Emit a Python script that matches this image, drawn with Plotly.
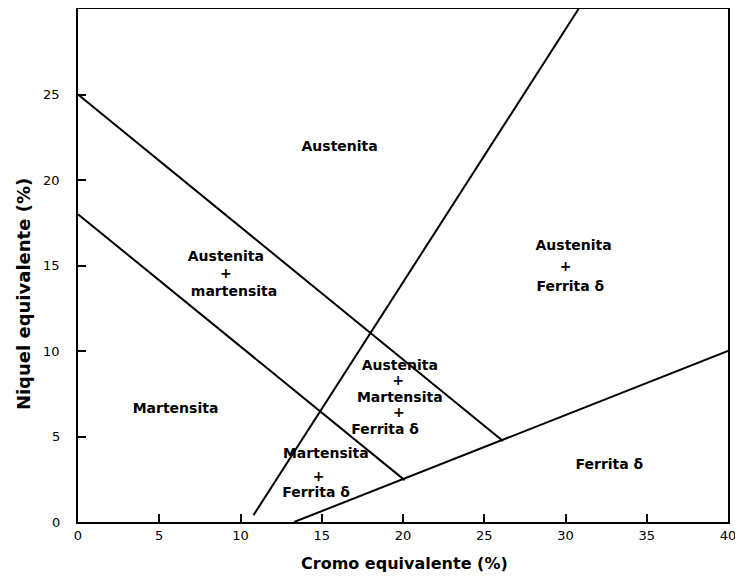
import plotly.graph_objects as go

# Boundary lines (Cromo equivalente, Niquel equivalente)
line_a_x = [0, 26.15]
line_a_y = [25, 4.74]
line_b_x = [0, 20.1]
line_b_y = [18, 2.45]
line_c_x = [10.8, 30.8]
line_c_y = [0.4, 30]
line_d_x = [13.3, 40]
line_d_y = [0, 10]

# Region labels, one entry per text line
label_text = ["Austenita",
              "Austenita", "+", "martensita",
              "Austenita", "+", "Ferrita δ",
              "Austenita", "+", "Martensita", "+", "Ferrita δ",
              "Martensita",
              "Martensita", "+", "Ferrita δ",
              "Ferrita δ"]
label_x = [16.1,
           9.1, 9.1, 9.6,
           30.5, 30.0, 30.3,
           19.8, 19.7, 19.8, 19.75, 18.9,
           6.0,
           15.25, 14.8, 14.65,
           32.7]
label_y = [21.9,
           15.45, 14.45, 13.4,
           16.1, 14.9, 13.7,
           9.1, 8.2, 7.25, 6.37, 5.38,
           6.6,
           3.92, 2.63, 1.64,
           3.33]

x_ticks = [0, 5, 10, 15, 20, 25, 30, 35, 40]
y_ticks = [0, 5, 10, 15, 20, 25]

x_title = "Cromo equivalente (%)"
y_title = "Niquel equivalente (%)"

FONT = "DejaVu Sans"

fig = go.Figure()
for xs, ys in [(line_a_x, line_a_y), (line_b_x, line_b_y), (line_c_x, line_c_y), (line_d_x, line_d_y)]:
    fig.add_trace(go.Scatter(x=xs, y=ys, mode="lines", line=dict(color="black", width=2),
                             showlegend=False, hoverinfo="skip"))

fig.add_trace(go.Scatter(x=label_x, y=label_y, mode="text", text=label_text,
                         textfont=dict(family=FONT, size=14, color="black", weight="bold"),
                         showlegend=False, hoverinfo="skip"))

fig.update_xaxes(range=[0, 40], tickvals=x_ticks, ticks="inside", ticklen=8, tickwidth=1.5,
                 tickcolor="black", showline=True, linecolor="black", linewidth=2, mirror=True,
                 showgrid=False, zeroline=False,
                 tickfont=dict(family=FONT, size=13, color="black"))
fig.update_yaxes(range=[0, 30], tickvals=y_ticks, ticks="inside", ticklen=8, tickwidth=1.5,
                 tickcolor="black", showline=True, linecolor="black", linewidth=2, mirror=True,
                 showgrid=False, zeroline=False, showticklabels=False)

# y tick labels placed further from the axis, as in the reference
for v in y_ticks:
    fig.add_annotation(text=str(v), xref="paper", yref="y", x=-0.025, y=v,
                       xanchor="right", yanchor="middle", showarrow=False,
                       font=dict(family=FONT, size=13, color="black"))

fig.add_annotation(text=x_title, xref="paper", yref="paper", x=0.503, y=-0.08,
                   xanchor="center", yanchor="middle",
                   showarrow=False, font=dict(family=FONT, size=16, color="black", weight="bold"))
fig.add_annotation(text=y_title, xref="paper", yref="paper", x=-0.084, y=0.445, textangle=-90,
                   xanchor="center", yanchor="middle",
                   showarrow=False, font=dict(family=FONT, size=18, color="black", weight="bold"))

fig.update_layout(width=735, height=571, margin=dict(l=70, r=15, t=1, b=57, autoexpand=False),
                  plot_bgcolor="white", paper_bgcolor="white")

fig.write_html("out.html")
